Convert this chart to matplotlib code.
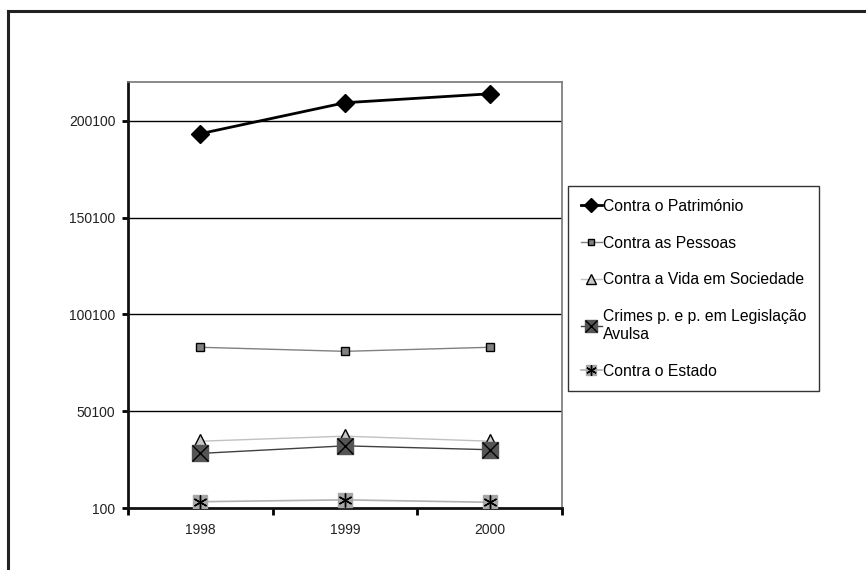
import matplotlib
matplotlib.use("Agg")
import matplotlib.pyplot as plt
from matplotlib.lines import Line2D

plt.rcParams['font.family'] = ['Liberation Sans', 'DejaVu Sans']

years = ['1998', '1999', '2000']
patrimonio = [193400, 209400, 214000]
pessoas = [83100, 81000, 83100]
vida = [34600, 37200, 34600]
avulsa = [28300, 32200, 30200]
estado = [3350, 4300, 3050]

labels = ['Contra o Património', 'Contra as Pessoas', 'Contra a Vida em Sociedade',
          'Crimes p. e p. em Legislação\nAvulsa', 'Contra o Estado']
yticks = [100, 50100, 100100, 150100, 200100]

W, H = 866, 570
fig = plt.figure(figsize=(W / 100, H / 100), dpi=100)

# outer chart frame (cut at right and bottom like the source)
fig.add_artist(Line2D([8 / W, 8 / W], [0, 1 - 11 / H], color='#222222', lw=2.2,
                      transform=fig.transFigure))
fig.add_artist(Line2D([8 / W, 1], [1 - 11 / H, 1 - 11 / H], color='#222222', lw=2.2,
                      transform=fig.transFigure))

ax = fig.add_axes([128 / W, 1 - 508 / H, (562 - 128) / W, (508 - 82) / H])
x = range(len(years))

ax.set_ylim(100, 220100)
ax.set_xlim(-0.5, 2.5)
ax.set_yticks(yticks)
ax.set_yticklabels([str(v) for v in yticks], fontsize=10, color='#222222')
for v in yticks[1:]:
    ax.axhline(v, color='black', lw=1, zorder=1)

ax.set_xticks(list(x))
ax.set_xticklabels(years, fontsize=10, color='#222222')
ax.set_xticks([-0.5, 0.5, 1.5, 2.5], minor=True)
ax.tick_params(axis='x', which='major', length=0, pad=11)
ax.tick_params(axis='x', which='minor', length=5, width=2, direction='out')
ax.tick_params(axis='y', length=4, width=2, direction='out', pad=5)

for s in ['left', 'bottom']:
    ax.spines[s].set_linewidth(2)
    ax.spines[s].set_color('#111111')
for s in ['top', 'right']:
    ax.spines[s].set_linewidth(1.2)
    ax.spines[s].set_color('#777777')

h1, = ax.plot(x, patrimonio, color='black', lw=2, marker='D', ms=9,
              mfc='black', mec='black', zorder=5)
h2, = ax.plot(x, pessoas, color='#808080', lw=1, marker='s', ms=6,
              mfc='#808080', mec='black', mew=1, zorder=5)
h3, = ax.plot(x, vida, color='#c0c0c0', lw=1, marker='^', ms=10,
              mfc='#c8c8c8', mec='black', mew=1, zorder=5)
h4a, = ax.plot(x, avulsa, color='#404040', lw=1, marker='s', ms=12,
               mfc='#555555', mec='#555555', zorder=5)
h4b, = ax.plot(x, avulsa, ls='none', marker='x', ms=11, mec='black', mew=1, zorder=6)
h5a, = ax.plot(x, estado, color='#b0b0b0', lw=1.2, marker='s', ms=10,
               mfc='#a6a6a6', mec='#a6a6a6', zorder=5)
h5b, = ax.plot(x, estado, ls='none', marker=(6, 2, 0), ms=10, mec='black', mew=1, zorder=6)

leg = fig.legend([h1, h2, h3, (h4a, h4b), (h5a, h5b)], labels,
                 loc='upper left', bbox_to_anchor=(568 / W, 1 - 186 / H),
                 fontsize=11.3, frameon=True, fancybox=False, handlelength=1.35,
                 handletextpad=0.1, labelspacing=1.4, borderpad=0.8,
                 borderaxespad=0, markerscale=0.75)
for t in leg.get_texts():
    t.set_linespacing(1.2)
leg.get_frame().set_edgecolor('black')
leg.get_frame().set_linewidth(1)

fig.savefig('out.png', dpi=100)
